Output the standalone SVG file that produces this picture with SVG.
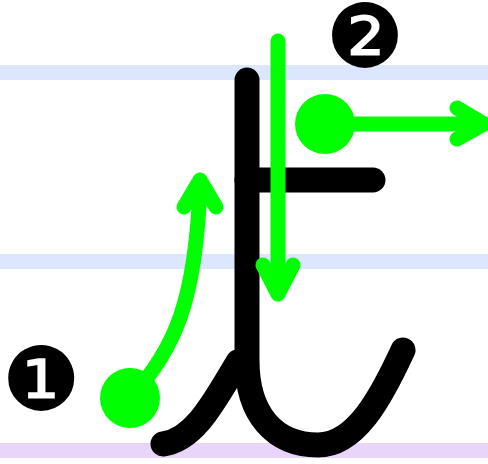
<svg xmlns="http://www.w3.org/2000/svg" width="488" height="464" viewBox="0 0 488 464">
<style>
.band{fill:#dce6ff}
.band2{fill:#e9d5fa}
.ink{fill:none;stroke:#000;stroke-width:25;stroke-linecap:round;stroke-linejoin:round}
.guide{fill:none;stroke:#00ff00;stroke-width:15;stroke-linecap:round;stroke-linejoin:round}
.dot{fill:#00ff00}
.num{font-family:"DejaVu Sans",sans-serif;font-size:88px;fill:#000;text-anchor:middle}
</style>
<rect width="488" height="464" fill="#fff"/>
<rect class="band" x="0" y="65" width="488" height="15"/>
<rect class="band" x="0" y="254" width="488" height="15"/>
<rect class="band2" x="0" y="443" width="488" height="15"/>
<g id="character">
<path class="ink" d="M247,80 V360 C247,415 275,445 318,445 C355,445 380,400 403,350"/>
<path class="ink" d="M238,362 C215,400 195,440 163,444"/>
<path class="ink" d="M247,180 H373"/>
</g>
<g id="connectors">
<g id="stroke1">
<circle class="dot" cx="130" cy="398" r="30"/>
<path class="guide" d="M130,398 C175,350 196,300 200,185"/>
<polyline class="guide" points="184,207 200,180 216,207"/>
</g>
<g id="stroke2">
<path class="guide" d="M278,41 V292"/>
<polyline class="guide" points="263,265 278,294 293,265"/>
</g>
<g id="stroke3">
<circle class="dot" cx="325" cy="124" r="30"/>
<path class="guide" d="M325,124 H482"/>
<polyline class="guide" points="457,108 484,124 457,139"/>
</g>
</g>
<g id="label1"><text class="num" x="41" y="410">❶</text></g>
<g id="label2"><text class="num" x="365" y="67">❷</text></g>
</svg>
